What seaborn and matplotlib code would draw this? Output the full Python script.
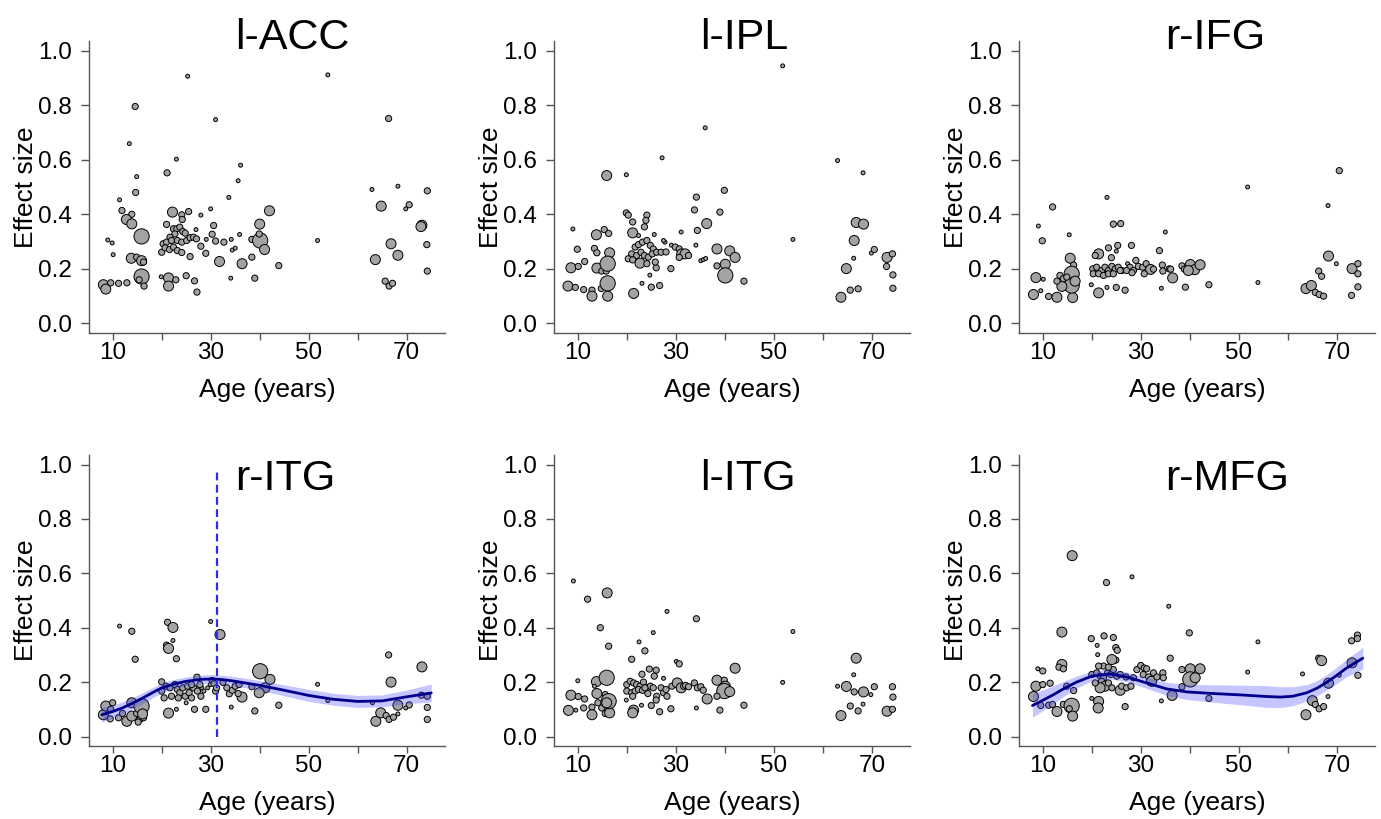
import numpy as np
import pandas as pd
import seaborn as sns
import matplotlib.pyplot as plt

# ---- data: age (years), effect size, study weight class (1 small .. 4 large)
acc_age = [25.3, 53.9, 14.6, 31.0, 66.3, 13.4, 23.0, 36.1, 21.1, 14.9, 35.6, 14.7, 11.4, 33.7, 62.9, 68.2,
           74.2, 11.9, 13.9, 12.8, 13.9, 22.2, 24.1, 24.2, 25.5, 28.0, 30.0, 42.0, 64.8, 70.5, 69.8, 40.0,
           21.0, 30.6, 73.1, 72.9, 15.9, 9.0, 9.9, 22.4, 23.1, 23.7, 24.3, 24.8, 22.7, 21.7, 20.3, 21.0,
           22.0, 23.2, 24.1, 25.1, 25.8, 26.5, 27.0, 27.1, 20.0, 20.7, 21.6, 22.4, 23.2, 24.1, 25.8, 28.0,
           29.1, 30.3, 31.0, 32.7, 34.2, 35.9, 38.4, 40.1, 39.9, 41.0, 29.0, 34.4, 35.0, 38.4, 31.8, 36.4,
           43.9, 10.1, 13.8, 14.9, 15.9, 16.3, 51.8, 66.8, 74.1, 63.6, 68.2, 74.2, 65.6, 66.4, 67.1, 15.9,
           15.4, 16.4, 8.1, 8.6, 9.6, 11.2, 12.9, 19.9, 21.4, 21.4, 22.9, 25.0, 26.7, 27.2, 34.1, 39.0]
acc_es = [0.906, 0.911, 0.795, 0.747, 0.751, 0.659, 0.602, 0.58, 0.552, 0.538, 0.523, 0.48, 0.453, 0.462,
          0.491, 0.503, 0.486, 0.414, 0.40, 0.381, 0.365, 0.408, 0.398, 0.381, 0.41, 0.397, 0.42, 0.413,
          0.43, 0.435, 0.42, 0.364, 0.363, 0.359, 0.36, 0.355, 0.319, 0.306, 0.295, 0.347, 0.347, 0.353,
          0.337, 0.331, 0.328, 0.316, 0.292, 0.298, 0.304, 0.304, 0.298, 0.304, 0.314, 0.316, 0.344, 0.31,
          0.261, 0.277, 0.271, 0.28, 0.267, 0.26, 0.245, 0.283, 0.308, 0.327, 0.302, 0.298, 0.308, 0.326,
          0.308, 0.304, 0.328, 0.271, 0.257, 0.269, 0.276, 0.243, 0.227, 0.219, 0.212, 0.252, 0.239, 0.243,
          0.23, 0.225, 0.304, 0.292, 0.289, 0.234, 0.25, 0.192, 0.155, 0.137, 0.147, 0.172, 0.16, 0.137,
          0.142, 0.126, 0.149, 0.147, 0.149, 0.171, 0.167, 0.137, 0.16, 0.175, 0.156, 0.115, 0.166, 0.166]
acc_n = [1, 1, 2, 1, 2, 1, 1, 1, 2, 1, 1, 2, 1, 1, 1, 1, 2, 2, 2, 3, 3, 3, 2, 2, 2, 1, 1, 3, 3, 2, 1, 3,
         2, 2, 3, 3, 4, 1, 1, 2, 2, 2, 2, 2, 2, 2, 2, 2, 2, 2, 2, 2, 2, 2, 1, 2, 2, 2, 2, 2, 2, 2, 2, 2,
         1, 2, 2, 2, 1, 1, 2, 4, 2, 3, 2, 1, 1, 2, 3, 3, 2, 1, 3, 2, 3, 2, 1, 3, 2, 3, 3, 2, 2, 2, 2, 4,
         2, 2, 3, 3, 2, 2, 2, 1, 3, 3, 2, 2, 2, 2, 1, 2]

ipl_age = [51.8, 36.0, 27.2, 15.9, 19.9, 63.0, 68.2, 39.9, 34.2, 33.8, 39.0, 36.3, 19.9, 20.3, 24.1, 23.9,
           21.2, 23.6, 21.2, 22.4, 25.6, 31.1, 34.4, 9.0, 13.8, 15.4, 16.3, 66.8, 68.3, 66.4, 9.9, 13.4,
           13.9, 16.5, 11.4, 8.6, 10.1, 13.9, 14.9, 15.8, 16.1, 8.0, 9.5, 11.2, 12.9, 12.9, 14.8, 16.1,
           16.1, 21.4, 23.1, 25.0, 26.7, 24.7, 21.7, 22.4, 23.2, 24.1, 24.8, 25.4, 21.0, 22.0, 22.9, 23.6,
           24.4, 25.2, 26.1, 27.0, 27.8, 28.0, 20.3, 21.2, 22.7, 24.1, 26.0, 25.8, 27.5, 29.1, 29.9, 30.7,
           31.2, 31.9, 32.6, 30.7, 29.0, 35.1, 35.6, 36.1, 34.1, 38.4, 41.0, 42.1, 40.1, 38.4, 40.1, 43.9,
           63.7, 65.6, 67.2, 64.8, 66.3, 69.9, 70.5, 73.1, 74.2, 73.0, 74.3, 74.3, 53.9]
ipl_es = [0.944, 0.717, 0.607, 0.542, 0.545, 0.597, 0.552, 0.488, 0.463, 0.416, 0.408, 0.366, 0.405, 0.397,
          0.397, 0.378, 0.372, 0.354, 0.332, 0.322, 0.326, 0.335, 0.341, 0.346, 0.325, 0.344, 0.33, 0.37,
          0.364, 0.304, 0.272, 0.275, 0.259, 0.259, 0.227, 0.204, 0.209, 0.203, 0.192, 0.192, 0.219, 0.137,
          0.132, 0.124, 0.122, 0.10, 0.128, 0.147, 0.10, 0.11, 0.147, 0.133, 0.139, 0.177, 0.28, 0.289,
          0.298, 0.304, 0.286, 0.273, 0.255, 0.249, 0.261, 0.249, 0.243, 0.255, 0.261, 0.261, 0.298, 0.262,
          0.237, 0.233, 0.221, 0.219, 0.204, 0.225, 0.304, 0.287, 0.28, 0.273, 0.255, 0.255, 0.249, 0.242,
          0.201, 0.23, 0.234, 0.238, 0.287, 0.273, 0.266, 0.242, 0.217, 0.211, 0.176, 0.155, 0.096, 0.122,
          0.127, 0.201, 0.239, 0.258, 0.271, 0.242, 0.255, 0.209, 0.178, 0.129, 0.308]
ipl_n = [1, 1, 1, 3, 1, 1, 1, 2, 2, 2, 2, 3, 2, 2, 2, 2, 2, 2, 3, 1, 1, 1, 2, 1, 3, 2, 2, 3, 3, 3, 2, 2,
         2, 3, 2, 3, 2, 3, 2, 2, 4, 3, 2, 2, 2, 3, 2, 4, 3, 3, 1, 2, 2, 1, 2, 2, 2, 2, 2, 2, 2, 2, 2, 2,
         2, 2, 2, 2, 1, 2, 2, 2, 3, 2, 2, 2, 1, 1, 2, 2, 3, 3, 2, 2, 2, 1, 1, 1, 1, 3, 3, 3, 3, 2, 4, 2,
         3, 2, 2, 3, 1, 1, 2, 3, 2, 2, 2, 2, 1]

ifg_age = [70.5, 51.8, 68.2, 23.1, 12.0, 9.1, 9.9, 15.4, 24.4, 25.9, 35.0, 28.1, 25.3, 23.4, 25.0, 33.8,
           21.4, 20.7, 15.6, 16.3, 24.0, 29.0, 68.3, 69.9, 73.1, 74.3, 74.3, 66.3, 66.9, 63.7, 64.8, 65.6,
           66.4, 67.3, 73.0, 74.3, 53.9, 43.9, 39.1, 34.2, 26.8, 25.0, 23.1, 21.4, 19.9, 8.1, 9.6, 11.2,
           12.9, 16.1, 8.6, 10.1, 15.9, 15.9, 13.9, 12.9, 13.5, 14.2, 14.9, 16.6, 20.2, 21.0, 22.0, 22.7,
           23.4, 24.1, 24.8, 25.4, 26.1, 20.3, 21.4, 22.4, 23.4, 24.4, 25.8, 27.3, 27.8, 27.1, 28.5, 29.5,
           30.4, 31.1, 32.0, 32.6, 30.7, 34.4, 34.5, 35.8, 36.1, 36.5, 38.4, 38.9, 40.1, 41.0, 42.1, 39.7,
           28.2]
ifg_es = [0.56, 0.50, 0.432, 0.462, 0.427, 0.357, 0.303, 0.325, 0.364, 0.366, 0.335, 0.286, 0.286, 0.277,
          0.265, 0.267, 0.255, 0.249, 0.239, 0.214, 0.241, 0.231, 0.247, 0.219, 0.201, 0.219, 0.182, 0.192,
          0.173, 0.128, 0.139, 0.114, 0.106, 0.10, 0.103, 0.134, 0.15, 0.142, 0.133, 0.129, 0.122, 0.132,
          0.132, 0.112, 0.142, 0.106, 0.12, 0.099, 0.096, 0.095, 0.168, 0.162, 0.182, 0.139, 0.136, 0.155,
          0.176, 0.164, 0.17, 0.155, 0.20, 0.206, 0.194, 0.206, 0.194, 0.209, 0.20, 0.206, 0.194, 0.182,
          0.182, 0.176, 0.182, 0.182, 0.194, 0.219, 0.206, 0.194, 0.194, 0.209, 0.206, 0.219, 0.198, 0.199,
          0.182, 0.214, 0.192, 0.20, 0.199, 0.167, 0.211, 0.199, 0.216, 0.197, 0.215, 0.194, 0.186]
ifg_n = [2, 1, 1, 1, 2, 1, 2, 1, 2, 2, 1, 2, 2, 2, 1, 2, 3, 2, 3, 2, 2, 2, 3, 1, 3, 2, 2, 2, 2, 3, 3, 2,
         2, 2, 2, 2, 1, 2, 2, 1, 2, 2, 1, 3, 1, 3, 1, 2, 3, 3, 3, 1, 4, 4, 3, 2, 2, 2, 2, 3, 2, 2, 2, 2,
         2, 2, 2, 2, 2, 2, 2, 2, 2, 2, 2, 1, 2, 2, 2, 2, 2, 2, 3, 2, 2, 2, 2, 2, 2, 3, 2, 2, 3, 3, 3, 3,
         2]

ritg_age = [11.4, 13.9, 14.6, 21.2, 22.3, 30.0, 31.9, 22.3, 21.0, 21.4, 23.0, 66.3, 73.1, 40.1, 42.1, 66.8,
            51.8, 27.2, 30.3, 32.5, 41.1, 38.4, 39.9, 36.4, 43.9, 39.0, 34.2, 29.0, 26.7, 25.0, 23.0, 21.4,
            53.9, 63.0, 68.2, 70.5, 69.8, 73.0, 74.2, 74.2, 74.2, 63.7, 64.7, 65.8, 66.4, 67.3, 68.2, 8.1,
            8.6, 9.5, 10.0, 9.6, 11.2, 12.0, 12.9, 13.9, 13.9, 14.9, 15.6, 16.3, 15.9, 16.1, 15.2, 20.0,
            20.0, 20.9, 21.7, 22.0, 22.7, 23.2, 23.7, 24.3, 24.8, 25.3, 25.6, 26.1, 26.5, 27.3, 28.0, 28.2,
            28.6, 29.4, 29.9, 30.7, 31.0, 31.2, 33.3, 33.8, 34.4, 35.0, 35.6, 35.8, 27.8, 26.1, 23.4, 20.5]
ritg_es = [0.406, 0.387, 0.284, 0.42, 0.401, 0.423, 0.375, 0.353, 0.336, 0.324, 0.286, 0.30, 0.256, 0.24,
           0.21, 0.20, 0.192, 0.218, 0.206, 0.199, 0.179, 0.183, 0.161, 0.145, 0.115, 0.094, 0.108, 0.10,
           0.10, 0.124, 0.10, 0.086, 0.132, 0.124, 0.115, 0.116, 0.105, 0.152, 0.148, 0.107, 0.063, 0.056,
           0.087, 0.077, 0.063, 0.071, 0.083, 0.08, 0.112, 0.065, 0.124, 0.10, 0.069, 0.085, 0.056, 0.124,
           0.075, 0.085, 0.063, 0.069, 0.112, 0.083, 0.053, 0.201, 0.167, 0.185, 0.179, 0.148, 0.191, 0.173,
           0.161, 0.179, 0.148, 0.185, 0.161, 0.142, 0.179, 0.167, 0.148, 0.179, 0.167, 0.179, 0.191, 0.194,
           0.167, 0.179, 0.179, 0.157, 0.17, 0.185, 0.158, 0.191, 0.191, 0.191, 0.142, 0.142]
ritg_n = [1, 2, 2, 2, 3, 1, 3, 1, 2, 3, 2, 2, 3, 4, 3, 3, 1, 2, 2, 2, 3, 2, 3, 3, 2, 2, 1, 2, 2, 1, 1, 3,
          1, 1, 3, 2, 1, 2, 2, 2, 2, 3, 3, 2, 2, 2, 1, 3, 3, 2, 2, 2, 2, 2, 3, 3, 3, 2, 2, 2, 4, 3, 2, 2,
          2, 2, 2, 2, 2, 2, 2, 2, 2, 2, 2, 2, 2, 2, 2, 1, 1, 1, 1, 2, 2, 2, 2, 2, 2, 2, 2, 2, 2, 2, 2, 2]

litg_age = [9.1, 16.0, 12.0, 28.2, 34.2, 14.6, 25.4, 53.9, 16.3, 22.5, 23.7, 21.0, 30.1, 30.7, 42.1, 66.8,
            66.3, 51.8, 63.0, 64.8, 70.5, 74.2, 68.3, 66.4, 69.8, 74.3, 68.2, 65.6, 67.2, 63.7, 73.1, 74.2,
            43.9, 39.0, 34.2, 29.0, 26.7, 25.0, 23.0, 21.4, 21.2, 19.9, 8.1, 9.6, 11.2, 12.9, 12.9, 10.0,
            8.6, 10.1, 11.4, 13.8, 13.9, 13.4, 14.1, 15.6, 14.9, 15.6, 16.5, 15.9, 16.3, 15.9, 23.1, 24.6,
            26.0, 25.6, 27.5, 20.0, 20.7, 21.4, 22.0, 22.7, 23.4, 24.1, 24.8, 25.4, 20.0, 21.0, 21.7, 22.4,
            23.2, 23.7, 21.2, 24.3, 26.1, 26.0, 27.0, 27.5, 28.0, 28.2, 29.2, 30.3, 31.1, 31.6, 32.0, 32.6,
            33.8, 34.4, 35.1, 35.6, 36.4, 38.4, 39.9, 40.1, 39.9, 41.0, 38.4]
litg_es = [0.572, 0.528, 0.505, 0.46, 0.433, 0.40, 0.382, 0.386, 0.332, 0.348, 0.315, 0.284, 0.276, 0.267,
           0.251, 0.288, 0.227, 0.199, 0.185, 0.184, 0.183, 0.183, 0.164, 0.164, 0.154, 0.145, 0.119, 0.112,
           0.094, 0.077, 0.093, 0.10, 0.115, 0.097, 0.105, 0.102, 0.091, 0.114, 0.115, 0.097, 0.087, 0.134,
           0.096, 0.097, 0.105, 0.108, 0.08, 0.205, 0.152, 0.147, 0.138, 0.202, 0.158, 0.185, 0.124, 0.154,
           0.105, 0.085, 0.087, 0.216, 0.13, 0.124, 0.229, 0.248, 0.244, 0.222, 0.214, 0.191, 0.203, 0.197,
           0.191, 0.185, 0.20, 0.179, 0.185, 0.179, 0.167, 0.161, 0.167, 0.173, 0.17, 0.179, 0.148, 0.158,
           0.148, 0.134, 0.179, 0.161, 0.173, 0.148, 0.185, 0.197, 0.179, 0.185, 0.188, 0.183, 0.197, 0.179,
           0.183, 0.17, 0.138, 0.207, 0.207, 0.185, 0.167, 0.165, 0.148]
litg_n = [1, 3, 2, 1, 2, 2, 1, 1, 2, 1, 2, 2, 1, 2, 3, 3, 1, 1, 1, 3, 2, 2, 3, 2, 1, 2, 1, 2, 2, 3, 3, 2,
          2, 2, 1, 2, 2, 2, 1, 3, 3, 1, 3, 1, 2, 2, 3, 1, 3, 2, 2, 3, 3, 1, 2, 2, 2, 2, 3, 4, 4, 3, 2, 2,
          2, 2, 1, 2, 2, 2, 2, 2, 2, 2, 2, 2, 2, 2, 2, 2, 2, 2, 2, 2, 2, 2, 2, 2, 2, 2, 2, 3, 3, 2, 2, 2,
          2, 2, 2, 2, 3, 3, 2, 3, 4, 3, 2]

mfg_age = [16.0, 23.0, 28.2, 35.7, 13.9, 39.9, 53.9, 74.2, 73.0, 74.2, 19.9, 22.5, 24.4, 21.1, 24.9, 25.2,
           21.2, 24.9, 24.1, 36.0, 66.3, 66.9, 13.9, 13.3, 14.2, 9.0, 10.0, 38.4, 40.1, 42.1, 51.8, 63.0,
           73.1, 74.3, 70.5, 68.3, 8.6, 10.0, 11.5, 14.9, 16.3, 8.1, 9.6, 11.2, 12.0, 12.9, 14.2, 15.9,
           16.1, 15.4, 20.0, 21.4, 21.3, 26.8, 34.2, 36.4, 43.9, 40.1, 41.1, 38.4, 65.0, 63.7, 65.6, 66.4,
           67.3, 68.2, 20.0, 21.0, 21.7, 22.4, 23.2, 23.9, 24.4, 25.1, 25.8, 22.0, 22.7, 23.4, 24.1, 21.7,
           20.7, 25.8, 26.1, 27.1, 28.0, 27.0, 28.5, 29.2, 30.0, 30.7, 31.2, 30.5, 31.6, 32.2, 32.6, 33.3,
           34.5, 34.6, 22.4, 23.4, 21.4]
mfg_es = [0.665, 0.566, 0.587, 0.479, 0.384, 0.381, 0.348, 0.373, 0.352, 0.36, 0.36, 0.37, 0.364, 0.335,
          0.327, 0.317, 0.301, 0.281, 0.283, 0.288, 0.288, 0.279, 0.265, 0.255, 0.249, 0.249, 0.241, 0.246,
          0.249, 0.249, 0.237, 0.23, 0.271, 0.225, 0.225, 0.196, 0.185, 0.191, 0.196, 0.185, 0.169, 0.147,
          0.114, 0.115, 0.118, 0.092, 0.118, 0.113, 0.075, 0.102, 0.14, 0.129, 0.105, 0.11, 0.131, 0.151,
          0.14, 0.21, 0.216, 0.183, 0.132, 0.08, 0.118, 0.102, 0.11, 0.147, 0.228, 0.234, 0.222, 0.216,
          0.234, 0.228, 0.246, 0.222, 0.228, 0.203, 0.185, 0.197, 0.179, 0.179, 0.197, 0.17, 0.185, 0.179,
          0.185, 0.219, 0.216, 0.246, 0.261, 0.252, 0.249, 0.228, 0.219, 0.203, 0.234, 0.219, 0.234, 0.216,
          0.259, 0.255, 0.259]
mfg_n = [3, 2, 1, 1, 3, 2, 1, 2, 2, 2, 2, 2, 2, 1, 2, 2, 1, 2, 3, 2, 2, 3, 3, 2, 2, 1, 2, 2, 3, 3, 1, 1,
         3, 2, 1, 3, 3, 2, 2, 2, 2, 3, 2, 2, 2, 3, 2, 4, 3, 2, 1, 3, 3, 2, 1, 3, 2, 4, 3, 2, 3, 3, 2, 2,
         2, 1, 2, 2, 2, 2, 2, 2, 2, 2, 2, 2, 3, 2, 2, 3, 2, 3, 2, 2, 2, 2, 2, 2, 2, 2, 2, 2, 2, 3, 2, 2,
         2, 2, 2, 2, 2]

# fitted age trajectories (curve and confidence band)
ritg_fit_age = [7.8, 10.0, 12.0, 14.0, 16.0, 18.0, 20.0, 22.5, 25.0, 28.0, 30.5, 33.0, 35.0, 40.0, 45.0,
                50.0, 55.0, 60.0, 65.0, 70.0, 75.0]
ritg_fit = [0.08, 0.092, 0.105, 0.122, 0.14, 0.16, 0.179, 0.193, 0.203, 0.21, 0.212, 0.208, 0.203, 0.188,
            0.17, 0.151, 0.137, 0.129, 0.131, 0.146, 0.16]
ritg_fit_hw = [0.027, 0.024, 0.022, 0.021, 0.02, 0.019, 0.018, 0.017, 0.016, 0.016, 0.016, 0.016, 0.017,
               0.018, 0.02, 0.022, 0.022, 0.022, 0.022, 0.025, 0.033]
ritg_peak = 31.2

mfg_fit_age = [7.9, 10.0, 12.2, 14.5, 16.9, 20.0, 23.7, 27.1, 31.2, 35.3, 39.4, 44.8, 50.3, 55.7, 58.5,
               61.0, 63.9, 66.0, 68.0, 70.0, 72.0, 75.3]
mfg_fit = [0.114, 0.133, 0.154, 0.178, 0.20, 0.222, 0.23, 0.219, 0.197, 0.175, 0.164, 0.158, 0.153, 0.147,
           0.145, 0.148, 0.161, 0.178, 0.20, 0.225, 0.252, 0.288]
mfg_fit_hw = [0.043, 0.038, 0.033, 0.027, 0.022, 0.018, 0.018, 0.018, 0.02, 0.024, 0.028, 0.032, 0.036,
              0.04, 0.038, 0.035, 0.03, 0.028, 0.028, 0.03, 0.032, 0.04]

regions = ["l-ACC", "l-IPL", "r-IFG", "r-ITG", "l-ITG", "r-MFG"]
ages = [acc_age, ipl_age, ifg_age, ritg_age, litg_age, mfg_age]
effects = [acc_es, ipl_es, ifg_es, ritg_es, litg_es, mfg_es]
weights = [acc_n, ipl_n, ifg_n, ritg_n, litg_n, mfg_n]
fits = {"r-ITG": (ritg_fit_age, ritg_fit, ritg_fit_hw), "r-MFG": (mfg_fit_age, mfg_fit, mfg_fit_hw)}

# Style
sns.set_style("white")
plt.rcParams['font.family'] = ['Liberation Sans', 'DejaVu Sans']
plt.rcParams['text.color'] = 'black'
plt.rcParams['axes.labelcolor'] = 'black'

fig = plt.figure(figsize=(13.81, 8.19), dpi=100)

lefts = [0.0644, 0.4012, 0.7379]
bottoms = [0.5934, 0.0891]
heights = [0.3565, 0.3553]
title_y = [0.973, 0.88]
size_map = {1: 8, 2: 20, 3: 52, 4: 120}
axis_grey = "#555555"

for i, name in enumerate(regions):
    row, col = divmod(i, 3)
    ax = fig.add_axes([lefts[col], bottoms[row], 0.2578, heights[row]])
    df = pd.DataFrame({"age": ages[i], "es": effects[i], "n": weights[i]})

    sns.scatterplot(data=df, x="age", y="es", size="n", sizes=size_map, color="#a3a3a3",
                    edgecolor="black", linewidth=0.7, legend=False, ax=ax, zorder=2)

    # Fitted trajectory with confidence band
    if name in fits:
        fa, fv, hw = (np.array(v) for v in fits[name])
        ax.fill_between(fa, fv - hw, fv + hw, color="#4040ff", alpha=0.3, lw=0, zorder=3)
        sns.lineplot(x=fa, y=fv, color="#00008b", lw=2, ax=ax, zorder=4)
    if name == "r-ITG":
        ax.vlines(ritg_peak, 0, 0.985, colors="#2a2aff", linestyles=(0, (3.5, 2)), lw=1.6, zorder=5)

    ax.set_xlim(5.16, 77.8)
    ax.set_ylim(-0.035, 1.035)
    ax.set_xticks([10, 20, 30, 40, 50, 60, 70])
    ax.set_xticklabels(["10", "", "30", "", "50", "", "70"])
    ax.set_yticks([0, 0.2, 0.4, 0.6, 0.8, 1.0])
    ax.set_yticklabels(["0.0", "0.2", "0.4", "0.6", "0.8", "1.0"])
    for s in ["top", "right"]:
        ax.spines[s].set_visible(False)
    for s in ["left", "bottom"]:
        ax.spines[s].set_color(axis_grey)
        ax.spines[s].set_linewidth(1)
    ax.tick_params(axis="y", length=6, width=1, color=axis_grey, labelcolor="black",
                   labelsize=17.5, pad=6.5, left=True)
    ax.tick_params(axis="x", length=5, width=1, color=axis_grey, labelcolor="black",
                   labelsize=17.5, pad=1.5, bottom=True)

    ax.set_xlabel("Age (years)", fontsize=19)
    ax.set_ylabel("Effect size", fontsize=19)
    ax.xaxis.set_label_coords(0.5, -0.155)
    ax.yaxis.set_label_coords(-0.143, 0.5)

    ax.text(0.41, title_y[row], name, transform=ax.transAxes, fontsize=31, color="black",
            ha="left", va="baseline", zorder=6)

plt.savefig("out.png", dpi=100)
